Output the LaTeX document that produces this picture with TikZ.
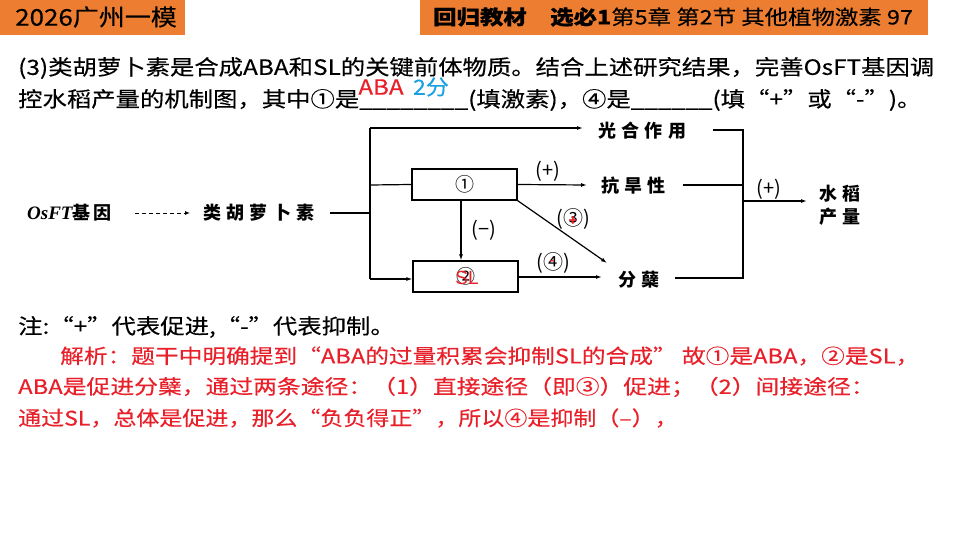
\documentclass[tikz,border=0pt]{standalone}
\usepackage{fontspec}
\setmainfont{Noto Sans CJK SC}[FakeBold=0.3]
\newfontfamily\latinsans{Liberation Sans}
\newfontfamily\dg{Noto Sans CJK SC}[LetterSpace=30]
\newfontfamily\dgn{Noto Sans CJK SC}
\newfontfamily\osft{Liberation Serif}
\usetikzlibrary{arrows.meta}
\definecolor{hdr}{HTML}{ED7D31}
\definecolor{ans}{HTML}{E8202A}
\definecolor{cyanans}{HTML}{1BA1E2}
\begin{document}
\begin{tikzpicture}[x=1pt,y=-1pt,
  txt/.style={anchor=west,inner sep=0pt,font=\fontsize{21}{24}\selectfont},
  red/.style={anchor=west,inner sep=0pt,text=ans,font=\fontsize{20}{22}\selectfont},
  lbl/.style={inner sep=0pt,font=\dg\bfseries\fontsize{18}{20}\selectfont},
  sgn/.style={inner sep=0pt,font=\dgn\fontsize{20}{22}\selectfont},
  box/.style={draw,line width=1.2pt,minimum width=105pt,minimum height=31pt,inner sep=0pt},
  ln/.style={line width=1.2pt},
  arr/.style={line width=1.2pt,-{Latex[length=6pt,width=4pt]}}]
\useasboundingbox (0,0) rectangle (960,540);
% header
\node[fill=hdr,minimum width=185pt,minimum height=35pt,anchor=north west,inner sep=0pt] (hl) at (0,0) {};
\node[anchor=west,inner sep=0pt,font=\fontsize{23}{24}\selectfont] (hlt) at (15,17) {\scalebox{1.13}[1]{2026广州一模}};
\node[fill=hdr,minimum width=508pt,minimum height=35pt,anchor=north west,inner sep=0pt] (hr) at (420,0) {};
\node[anchor=west,inner sep=0pt,font=\fontsize{20}{22}\selectfont] (hrt) at (433,17) {\scalebox{1.17}[1]{\textbf{回归教材\quad 选必1}第5章\ 第2节\ 其他植物激素\ 97}};
% question
\node[txt] (q1) at (18,68) {\scalebox{1.16}[1]{(3)类胡萝卜素是合成ABA和SL的关键前体物质。结合上述研究结果，完善OsFT基因调}};
\node[txt] (q2) at (18,100) {\scalebox{1.16}[1]{控水稻产量的机制图，其中①是\_\_\_\_\_\_\_\_(填激素)，④是\_\_\_\_\_\_(填“+”或“-”)。}};
\node[inner sep=0pt,text=ans,font=\fontsize{21}{22}\selectfont] (a1) at (381,87) {\scalebox{1.15}[1]{ABA}};
\node[inner sep=0pt,text=cyanans,font=\fontsize{21}{22}\selectfont] (a2) at (431,87) {\scalebox{1.1}[1]{2分}};
% diagram
\node[anchor=west,inner sep=0pt,font=\osft\bfseries\itshape\fontsize{19}{20}\selectfont] (gene) at (27,213) {OsFT\dgn\upshape\bfseries\fontsize{18}{20}\selectfont 基\,因};
\coordinate (dashS) at (135,213);
\node[lbl,anchor=west] (car) at (203,213) {类胡萝卜素};
\coordinate (c0) at (330,213);
\coordinate (j) at (370,213);
\coordinate (jt) at (370,128);
\coordinate (jm) at (370,185);
\coordinate (jb) at (370,279);
\node[box] (b1) at (464.5,184.5) {\dgn\fontsize{19}{20}\selectfont ①};
\node[box] (b2) at (465.5,276.5) {\dgn\fontsize{19}{20}\selectfont ②};
\node[inner sep=0pt,text=ans,font=\latinsans\fontsize{19}{20}\selectfont] (sl) at (467,278) {SL};
\node[lbl,anchor=west] (gh) at (598,131) {光合作用};
\node[lbl,anchor=west] (kh) at (601,186) {抗旱性};
\node[lbl,anchor=west] (fn) at (618,280) {分蘖};
\node[lbl,anchor=west,align=left] (yd) at (819,205) {水稻\\[3pt]产量};
\draw[line width=1pt,dash pattern=on 4pt off 3pt,-{Latex[length=5pt,width=4pt]}] (dashS) -- (190,213);
\draw[ln] (c0) -- (j);
\draw[ln] (jt) -- (jb);
\draw[arr] (jt) -- (583,128);
\draw[ln] (jm) -- (b1.west);
\draw[arr] (jb) -- (b2.west |- jb);
\draw[arr] (b1.south -| 461,0) -- (b2.north -| 461,0);
\node[sgn] (m1) at (484,230) {(−)};
\draw[arr] (b1.east) -- (587,185);
\node[sgn] (p1) at (548,171) {(+)};
\draw[arr] (b1.south east) -- (607,263);
\node[sgn] (p3) at (573,219) {(③)};
\node[inner sep=0pt,text=ans,font=\latinsans\bfseries\fontsize{15}{16}\selectfont] (p3r) at (573,221) {+};
\draw[arr] (b2.east |- 0,277) -- (602,277);
\node[sgn] (p4) at (553,263) {(④)};
\node[inner sep=0pt,text=ans,font=\latinsans\bfseries\fontsize{13}{14}\selectfont] (p4r) at (552,262) {-};
\coordinate (r1) at (713,130);
\coordinate (r2) at (683,185);
\coordinate (r3) at (675,278);
\coordinate (vt) at (743,130);
\coordinate (vb) at (743,278);
\coordinate (vm) at (743,201);
\draw[ln] (r1) -- (vt) -- (vb) -- (r3);
\draw[ln] (r2) -- (743,185);
\draw[arr] (vm) -- (807,201);
\node[sgn] (p5) at (769,189) {(+)};
% note
\node[txt] (note) at (18,327) {\scalebox{1.16}[1]{注:“+”代表促进,“-”代表抑制。}};
\node[red] (e1) at (60,356) {\scalebox{1.185}[1]{解析：题干中明确提到“ABA的过量积累会抑制SL的合成” 故①是ABA，②是SL，}};
\node[red] (e2) at (18,387) {\scalebox{1.19}[1]{ABA是促进分蘖，通过两条途径：（1）直接途径（即③）促进；（2）间接途径：}};
\node[red] (e3) at (18,418) {\scalebox{1.15}[1]{通过SL，总体是促进，那么“负负得正”，所以④是抑制（–），}};
\end{tikzpicture}
\end{document}
